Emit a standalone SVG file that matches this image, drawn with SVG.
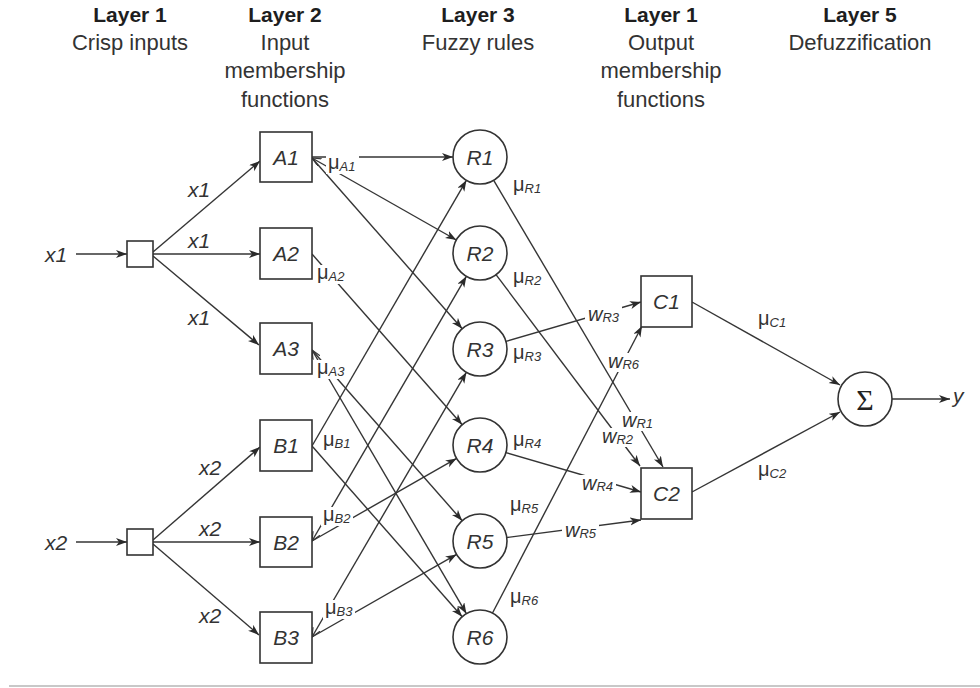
<svg xmlns="http://www.w3.org/2000/svg" width="980" height="688" viewBox="0 0 980 688">
<style>
  .hd{font-family:"Liberation Sans",Arial,sans-serif;font-size:21px;font-weight:bold;fill:#1e1e1e;text-anchor:middle}
  .sb{font-family:"Liberation Sans",Arial,sans-serif;font-size:22px;fill:#333;text-anchor:middle}
  .box{fill:#fff;stroke:#333;stroke-width:1.6}
  .nl{font-family:"Liberation Sans",Arial,sans-serif;font-size:21px;font-style:italic;fill:#333;text-anchor:middle}
  .xl{font-family:"Liberation Sans",Arial,sans-serif;font-size:21px;font-style:italic;fill:#333}
  .e{stroke:#353535;stroke-width:1.4;fill:none;marker-end:url(#arr)}
  .t{marker-start:url(#tail)}
  .mu{font-family:"Liberation Sans",Arial,sans-serif;font-size:20px;fill:#333}
  .w{font-family:"Liberation Sans",Arial,sans-serif;font-size:20px;font-style:italic;fill:#333}
  .s{font-size:13px;font-style:italic}
  .bg{fill:#fff}
  .sig{font-family:"Liberation Serif","Times New Roman",serif;font-size:30px;fill:#222;text-anchor:middle}
</style>
<defs>
  <marker id="arr" markerUnits="userSpaceOnUse" markerWidth="12" markerHeight="9" refX="11" refY="4" orient="auto">
    <path d="M0,0 L11,4 L0,8 L3,4 Z" fill="#2a2a2a"/>
  </marker>
  <marker id="tail" markerUnits="userSpaceOnUse" markerWidth="12" markerHeight="10" refX="9" refY="4" orient="auto-start-reverse">
    <path d="M0,0 L9,4 L0,8" fill="none" stroke="#3a3a3a" stroke-width="1.2"/>
  </marker>
</defs>
<rect width="980" height="688" fill="#fff"/>

<!-- column headings -->
<g id="headings">
  <text class="hd" x="130" y="22">Layer 1</text>
  <text class="sb" x="130" y="50">Crisp inputs</text>
  <text class="hd" x="285" y="22">Layer 2</text>
  <text class="sb" x="285" y="50">Input</text>
  <text class="sb" x="285" y="78">membership</text>
  <text class="sb" x="285" y="107">functions</text>
  <text class="hd" x="478" y="22">Layer 3</text>
  <text class="sb" x="478" y="50">Fuzzy rules</text>
  <text class="hd" x="661" y="22">Layer 1</text>
  <text class="sb" x="661" y="50">Output</text>
  <text class="sb" x="661" y="78">membership</text>
  <text class="sb" x="661" y="107">functions</text>
  <text class="hd" x="860" y="22">Layer 5</text>
  <text class="sb" x="860" y="50">Defuzzification</text>
</g>

<!-- connectors -->
<g id="connectors">
  <!-- crisp inputs -->
  <line class="e" x1="76" y1="254" x2="127" y2="254"/>
  <line class="e" x1="76" y1="542" x2="127" y2="542"/>
  <line class="e" x1="153" y1="252" x2="260" y2="161"/>
  <line class="e" x1="153" y1="254" x2="260" y2="254"/>
  <line class="e" x1="153" y1="256" x2="259" y2="345"/>
  <line class="e" x1="153" y1="540" x2="260" y2="447"/>
  <line class="e" x1="153" y1="542" x2="260" y2="542"/>
  <line class="e" x1="153" y1="544" x2="259" y2="635"/>
  <!-- membership functions to rules -->
  <line class="e" x1="312" y1="157" x2="453" y2="157"/>
  <line class="e t" x1="312" y1="158" x2="456.4" y2="240"/>
  <line class="e" x1="312" y1="158" x2="462.2" y2="328.7"/>
  <line class="e" x1="312" y1="254" x2="462.2" y2="424.7"/>
  <line class="e" x1="312" y1="350" x2="462.2" y2="520.7"/>
  <line class="e t" x1="312" y1="350" x2="466.4" y2="613.7"/>
  <line class="e" x1="312" y1="446" x2="466.4" y2="180.3"/>
  <line class="e" x1="312" y1="446" x2="462.2" y2="616.7"/>
  <line class="e t" x1="312" y1="541" x2="466.4" y2="276.3"/>
  <line class="e" x1="312" y1="541" x2="456.6" y2="458.4"/>
  <line class="e t" x1="312" y1="637" x2="466.4" y2="372.3"/>
  <line class="e" x1="312" y1="637" x2="456.6" y2="554.4"/>
  <!-- rules to output membership functions -->
  <line class="e" x1="493.7" y1="180.3" x2="663" y2="467"/>
  <line class="e" x1="496" y1="274.6" x2="640" y2="466"/>
  <line class="e" x1="505.9" y1="341.4" x2="641" y2="302"/>
  <line class="e" x1="505.9" y1="452.6" x2="641" y2="492"/>
  <line class="e" x1="506.8" y1="537.5" x2="641" y2="520"/>
  <line class="e" x1="492.5" y1="613" x2="642" y2="326"/>
  <!-- defuzzification -->
  <line class="e" x1="692" y1="302" x2="840" y2="385"/>
  <line class="e" x1="692" y1="492" x2="840" y2="412"/>
  <line class="e" x1="892" y1="399" x2="950" y2="399"/>
</g>

<!-- connector labels -->
<g id="connector-labels">
  <text class="xl" x="45" y="261.5">x1</text>
  <text class="xl" x="45" y="549.5">x2</text>
  <text class="xl" x="188" y="197">x1</text>
  <text class="xl" x="188" y="248">x1</text>
  <text class="xl" x="188" y="325">x1</text>
  <text class="xl" x="199" y="475">x2</text>
  <text class="xl" x="199" y="536">x2</text>
  <text class="xl" x="199" y="623">x2</text>

  <rect class="bg" x="326" y="155" width="33" height="19"/>
  <text class="mu" x="328" y="169">μ<tspan class="s" dy="2">A1</tspan></text>
  <rect class="bg" x="315" y="265" width="32" height="19"/>
  <text class="mu" x="317" y="279">μ<tspan class="s" dy="2">A2</tspan></text>
  <rect class="bg" x="315" y="360" width="32" height="19"/>
  <text class="mu" x="317" y="374">μ<tspan class="s" dy="2">A3</tspan></text>
  <text class="mu" x="323" y="446">μ<tspan class="s" dy="2">B1</tspan></text>
  <rect class="bg" x="321" y="507" width="32" height="19"/>
  <text class="mu" x="323" y="521">μ<tspan class="s" dy="2">B2</tspan></text>
  <rect class="bg" x="323" y="600" width="32" height="19"/>
  <text class="mu" x="325" y="614">μ<tspan class="s" dy="2">B3</tspan></text>

  <text class="mu" x="513" y="191">μ<tspan class="s" dy="2">R1</tspan></text>
  <text class="mu" x="513" y="283">μ<tspan class="s" dy="2">R2</tspan></text>
  <text class="mu" x="513" y="359">μ<tspan class="s" dy="2">R3</tspan></text>
  <text class="mu" x="513" y="446">μ<tspan class="s" dy="2">R4</tspan></text>
  <text class="mu" x="510" y="511">μ<tspan class="s" dy="2">R5</tspan></text>
  <text class="mu" x="510" y="603">μ<tspan class="s" dy="2">R6</tspan></text>

  <rect class="bg" x="585" y="306" width="37" height="19"/>
  <text class="w" x="588" y="321">w<tspan class="s" dy="1">R3</tspan></text>
  <rect class="bg" x="608" y="353" width="35" height="19"/>
  <text class="w" x="608" y="368">w<tspan class="s" dy="1">R6</tspan></text>
  <rect class="bg" x="619" y="412" width="37" height="19"/>
  <text class="w" x="622" y="427">w<tspan class="s" dy="1">R1</tspan></text>
  <rect class="bg" x="599" y="428" width="37" height="19"/>
  <text class="w" x="602" y="443">w<tspan class="s" dy="1">R2</tspan></text>
  <rect class="bg" x="579" y="475" width="37" height="19"/>
  <text class="w" x="582" y="490">w<tspan class="s" dy="1">R4</tspan></text>
  <rect class="bg" x="562" y="522" width="37" height="19"/>
  <text class="w" x="565" y="537">w<tspan class="s" dy="1">R5</tspan></text>

  <text class="mu" x="758" y="325">μ<tspan class="s" dy="2">C1</tspan></text>
  <text class="mu" x="758" y="476">μ<tspan class="s" dy="2">C2</tspan></text>
  <text class="xl" x="953" y="403">y</text>
</g>

<!-- layer 1: crisp inputs -->
<g id="input-x1"><rect class="box" x="127" y="241" width="26" height="26"/></g>
<g id="input-x2"><rect class="box" x="127" y="529" width="26" height="26"/></g>

<!-- layer 2: input membership functions -->
<g id="A1"><rect class="box" x="260" y="132" width="52" height="50"/><text class="nl" x="286" y="164.5">A1</text></g>
<g id="A2"><rect class="box" x="260" y="228" width="52" height="51"/><text class="nl" x="286" y="261">A2</text></g>
<g id="A3"><rect class="box" x="260" y="323" width="52" height="51"/><text class="nl" x="286" y="356">A3</text></g>
<g id="B1"><rect class="box" x="260" y="420" width="52" height="51"/><text class="nl" x="286" y="453">B1</text></g>
<g id="B2"><rect class="box" x="260" y="517" width="52" height="50"/><text class="nl" x="286" y="549.5">B2</text></g>
<g id="B3"><rect class="box" x="260" y="612" width="52" height="51"/><text class="nl" x="286" y="645">B3</text></g>

<!-- layer 3: fuzzy rules -->
<g id="R1"><circle class="box" cx="480" cy="157" r="27"/><text class="nl" x="480" y="164.5">R1</text></g>
<g id="R2"><circle class="box" cx="480" cy="253" r="27"/><text class="nl" x="480" y="260.5">R2</text></g>
<g id="R3"><circle class="box" cx="480" cy="349" r="27"/><text class="nl" x="480" y="356.5">R3</text></g>
<g id="R4"><circle class="box" cx="480" cy="445" r="27"/><text class="nl" x="480" y="452.5">R4</text></g>
<g id="R5"><circle class="box" cx="480" cy="541" r="27"/><text class="nl" x="480" y="548.5">R5</text></g>
<g id="R6"><circle class="box" cx="480" cy="637" r="27"/><text class="nl" x="480" y="644.5">R6</text></g>

<!-- layer 4: output membership functions -->
<g id="C1"><rect class="box" x="641" y="276" width="51" height="51"/><text class="nl" x="666.5" y="309">C1</text></g>
<g id="C2"><rect class="box" x="641" y="468" width="51" height="51"/><text class="nl" x="666.5" y="501">C2</text></g>

<!-- layer 5: defuzzification -->
<g id="sum"><circle class="box" cx="865" cy="399" r="27"/><text class="sig" x="865" y="410">Σ</text></g>

<line x1="9" y1="686" x2="980" y2="686" stroke="#c8c8c8" stroke-width="2"/>
</svg>
